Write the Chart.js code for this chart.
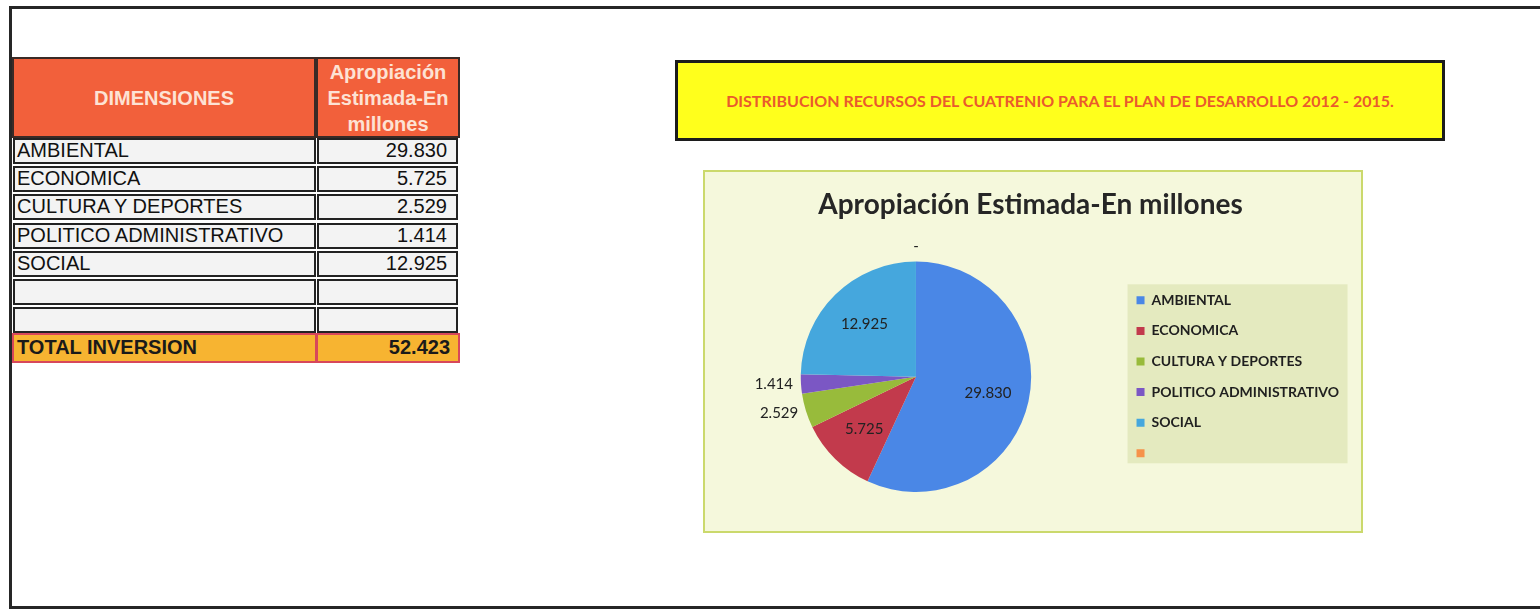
<!DOCTYPE html>
<html>
<head>
<meta charset="utf-8">
<title>Apropiación Estimada-En millones</title>
<script src="https://cdn.jsdelivr.net/npm/chart.js@4.4.1/dist/chart.umd.min.js"></script>
<style>
body { margin: 0; width: 1540px; height: 610px; overflow: hidden; position: relative; background: #fff; font-family: "Liberation Sans", Arial, sans-serif; }
.abs { position: absolute; box-sizing: border-box; }
.linea { position: absolute; background: #262626; }
.cab { background: #f2603b; color: #fde2d4; font-weight: bold; font-size: 20px; border: 2px solid #3a2a26; display: flex; align-items: center; justify-content: center; text-align: center; line-height: 26px; }
.celda { border: 2px solid #222; background: #f3f3f3; font-size: 20px; color: #111; line-height: 21px; white-space: nowrap; overflow: hidden; }
.nombre { padding-left: 2px; }
.valor { text-align: right; padding-right: 9px; }
.total { background: #f7b431; border: 2px solid #d8475a; font-weight: bold; font-size: 20px; color: #1a1a1a; line-height: 25px; white-space: nowrap; }
#titulo { left: 675px; top: 60px; width: 770px; height: 81px; background: #ffff1c; border: 3px solid #1c1c1c; color: #ea5a2c; font-family: Lato, sans-serif; font-weight: bold; font-size: 16px; display: flex; align-items: center; justify-content: center; }
#caja { left: 703px; top: 170px; width: 660px; height: 363px; border: 2px solid #cbd96c; background: #f5f8dc; }
</style>
</head>
<body>
<div class="linea" style="left:9px; top:6px; width:1531px; height:3px;"></div>
<div class="linea" style="left:9px; top:6px; width:3px; height:603px;"></div>
<div class="linea" style="left:9px; top:606px; width:1531px; height:3px;"></div>

<div id="tabla"></div>

<div class="abs" id="titulo">DISTRIBUCION RECURSOS DEL CUATRENIO PARA EL PLAN DE DESARROLLO 2012 - 2015.</div>

<div class="abs" id="caja">
  <canvas id="grafico"></canvas>
</div>

<script>
var dimensiones = ['AMBIENTAL', 'ECONOMICA', 'CULTURA Y DEPORTES', 'POLITICO ADMINISTRATIVO', 'SOCIAL', ''];
var apropiacion = [29.830, 5.725, 2.529, 1.414, 12.925, 0];
var colores = ['#4a87e6', '#c23a4c', '#98bb3b', '#7b57c4', '#45a7dd', '#f6924a'];

function formato(v) {
    if (v === 0) return '-';
    return v.toFixed(3);
}

// tabla de la izquierda
function ArmarTabla() {
    var t = document.getElementById('tabla');
    var html = '';
    html += '<div class="abs cab" style="left:12px;top:57px;width:304px;height:81px;">DIMENSIONES</div>';
    html += '<div class="abs cab" style="left:316px;top:57px;width:144px;height:81px;">Apropiación<br>Estimada-En<br>millones</div>';
    for (var i = 0; i < 7; i++) {
        var top = 138 + i * 28.2;
        var nombre = dimensiones[i] || '';
        var valor = apropiacion[i] ? formato(apropiacion[i]) : '';
        html += '<div class="abs celda nombre" style="left:13px;top:' + top + 'px;width:303px;height:26px;">' + nombre + '</div>';
        html += '<div class="abs celda valor" style="left:317px;top:' + top + 'px;width:141px;height:26px;">' + valor + '</div>';
    }
    var suma = apropiacion.reduce(function (a, b) { return a + b; }, 0);
    html += '<div class="abs total" style="left:12px;top:333px;width:305px;height:30px;padding-left:3px;">TOTAL INVERSION</div>';
    html += '<div class="abs total" style="left:316px;top:333px;width:144px;height:30px;text-align:right;padding-right:8px;">' + formato(suma) + '</div>';
    t.innerHTML = html;
}

var fondoLeyenda = {
    id: 'fondoLeyenda',
    beforeDraw: function (chart) {
        var l = chart.legend;
        if (!l || !l.columnSizes) return;
        var pad = l.options.labels.padding;
        var alto = l.columnSizes[0].height;
        var y0 = (l.top + pad + l.bottom - alto) / 2;
        var x0 = l.left + pad;
        var linea = 14 + pad;
        var ctx = chart.ctx;
        ctx.save();
        ctx.fillStyle = '#e4eabf';
        ctx.fillRect(x0 - 9, y0 - 9, 220, 5 * linea + 14 + 12);
        ctx.restore();
    }
};

var etiquetas = {
    id: 'etiquetas',
    afterDatasetsDraw: function (chart) {
        var ctx = chart.ctx;
        var arcos = chart.getDatasetMeta(0).data;
        ctx.save();
        ctx.font = '15px Lato';
        ctx.fillStyle = '#222';
        arcos.forEach(function (arco, i) {
            var p = arco.getProps(['x', 'y', 'startAngle', 'endAngle', 'outerRadius'], true);
            var medio = (p.startAngle + p.endAngle) / 2;
            var abertura = p.endAngle - p.startAngle;
            var cx = Math.cos(medio), sy = Math.sin(medio);
            var r;
            if (abertura < 0.35) {
                r = p.outerRadius + 8;
                ctx.textAlign = cx < -0.3 ? 'right' : (cx > 0.3 ? 'left' : 'center');
                ctx.textBaseline = sy < -0.7 ? 'bottom' : 'middle';
            } else {
                r = p.outerRadius * 0.64;
                ctx.textAlign = 'center';
                ctx.textBaseline = 'middle';
            }
            ctx.fillText(formato(apropiacion[i]), p.x + cx * r, p.y + sy * r);
        });
        ctx.restore();
    }
};

function CargarGrafico() {
    new Chart(document.getElementById('grafico'), {
        type: 'pie',
        data: {
            labels: dimensiones,
            datasets: [{
                data: apropiacion,
                backgroundColor: colores,
                borderWidth: 0
            }]
        },
        options: {
            responsive: true,
            maintainAspectRatio: false,
            animation: false,
            layout: { padding: { left: 7, right: 12, top: 0, bottom: 39 } },
            plugins: {
                title: {
                    display: true,
                    text: 'Apropiación Estimada-En millones',
                    color: '#262626',
                    font: { family: 'Lato', size: 28, weight: 'bold' },
                    padding: { top: 16, bottom: 40 }
                },
                legend: {
                    position: 'right',
                    fullSize: false,
                    labels: {
                        boxWidth: 8,
                        boxHeight: 8,
                        padding: 16.6,
                        color: '#1f1f1f',
                        font: { family: 'Lato', size: 14, weight: 'bold' }
                    }
                },
                tooltip: { enabled: false }
            }
        },
        plugins: [fondoLeyenda, etiquetas]
    });
}

ArmarTabla();
CargarGrafico();
</script>
</body>
</html>
